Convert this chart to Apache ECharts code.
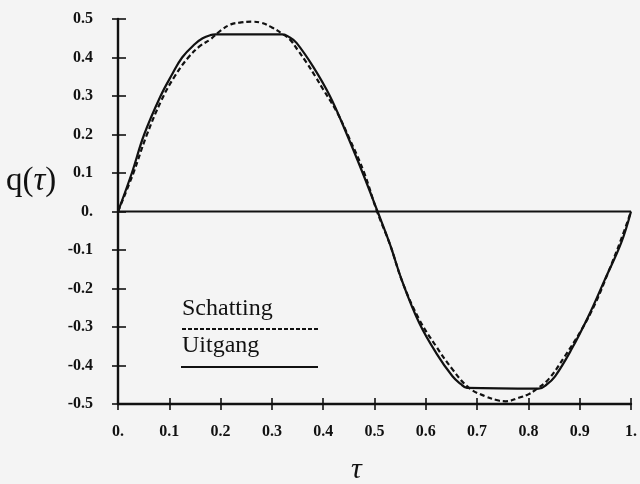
<!DOCTYPE html>
<html>
<head>
<meta charset="utf-8">
<script src="https://cdn.jsdelivr.net/npm/echarts@6/dist/echarts.min.js"></script>
<style>
  html, body { margin: 0; padding: 0; background: #f4f4f4; }
  #chart { width: 640px; height: 484px; }
</style>
</head>
<body>
<div id="chart"></div>
<script>
// Uitgang (solid) curve
var uitgangX = [0, 0.027, 0.051, 0.083, 0.105, 0.125, 0.15, 0.165, 0.18, 0.19, 0.32, 0.335, 0.348, 0.38, 0.413, 0.445, 0.477, 0.506, 0.529, 0.555, 0.587, 0.62, 0.652, 0.668, 0.68, 0.82, 0.835, 0.852, 0.884, 0.917, 0.949, 0.981, 1.0];
var uitgangY = [0, 0.1, 0.2, 0.3, 0.355, 0.4, 0.435, 0.45, 0.458, 0.46, 0.46, 0.452, 0.438, 0.377, 0.30, 0.204, 0.10, 0.0, -0.081, -0.185, -0.289, -0.367, -0.428, -0.448, -0.458, -0.46, -0.45, -0.428, -0.358, -0.272, -0.177, -0.081, 0];

// Schatting (dashed) curve
var schattingX = [0, 0.03, 0.055, 0.085, 0.11, 0.137, 0.16, 0.18, 0.2, 0.22, 0.24, 0.26, 0.28, 0.3, 0.32, 0.335, 0.35, 0.368, 0.385, 0.4, 0.426, 0.452, 0.48, 0.505, 0.53, 0.555, 0.587, 0.62, 0.652, 0.684, 0.716, 0.742, 0.756, 0.781, 0.8, 0.813, 0.839, 0.871, 0.904, 0.93, 0.955, 0.98, 1.0];
var schattingY = [0, 0.1, 0.195, 0.29, 0.35, 0.4, 0.43, 0.447, 0.47, 0.486, 0.491, 0.493, 0.49, 0.478, 0.462, 0.447, 0.42, 0.386, 0.35, 0.317, 0.26, 0.187, 0.1, 0.0, -0.085, -0.185, -0.28, -0.35, -0.41, -0.458, -0.48, -0.491, -0.493, -0.484, -0.475, -0.464, -0.436, -0.376, -0.306, -0.24, -0.16, -0.075, 0];

// Zero reference line
var zeroX = [0, 1];
var zeroY = [0, 0];

var xTickLabels = ['0.', '0.1', '0.2', '0.3', '0.4', '0.5', '0.6', '0.7', '0.8', '0.9', '1.'];
var yTickLabels = ['-0.5', '-0.4', '-0.3', '-0.2', '-0.1', '0.', '0.1', '0.2', '0.3', '0.4', '0.5'];

var legendNames = ['Schatting', 'Uitgang'];

function zip(xs, ys) { return xs.map(function (x, i) { return [x, ys[i]]; }); }

var labelFont = { fontFamily: 'Liberation Serif', fontWeight: 'bold', fontSize: 16, color: '#111' };
var serif = 'Liberation Serif';

var chart = echarts.init(document.getElementById('chart'), null, { renderer: 'canvas' });
chart.setOption({
  backgroundColor: '#f4f4f4',
  animation: false,
  grid: { left: 118, right: 7, top: 19, bottom: 80, containLabel: false },
  xAxis: [{
    type: 'value', min: 0, max: 1, interval: 0.1, position: 'bottom',
    axisLine: { show: true, onZero: false, lineStyle: { color: '#111', width: 2.4 } },
    axisTick: { show: true, inside: false, length: 6, lineStyle: { color: '#111', width: 1.6 } },
    axisLabel: Object.assign({ margin: 20, formatter: function (v) { return xTickLabels[Math.round(v * 10)]; } }, labelFont),
    splitLine: { show: false }
  }, {
    type: 'value', min: 0, max: 1, interval: 0.1, position: 'bottom',
    axisLine: { show: false, onZero: false },
    axisTick: { show: true, inside: true, length: 6, lineStyle: { color: '#111', width: 1.6 } },
    axisLabel: { show: false },
    splitLine: { show: false }
  }],
  yAxis: [{
    type: 'value', min: -0.5, max: 0.5, interval: 0.1, position: 'left',
    axisLine: { show: true, onZero: false, lineStyle: { color: '#111', width: 2.4 } },
    axisTick: { show: true, inside: false, length: 6, lineStyle: { color: '#111', width: 1.6 } },
    axisLabel: Object.assign({ margin: 25, formatter: function (v) { return yTickLabels[Math.round(v * 10) + 5]; } }, labelFont),
    splitLine: { show: false }
  }, {
    type: 'value', min: -0.5, max: 0.5, interval: 0.1, position: 'left',
    axisLine: { show: false, onZero: false },
    axisTick: { show: true, inside: true, length: 8, lineStyle: { color: '#111', width: 1.6 } },
    axisLabel: { show: false },
    splitLine: { show: false }
  }],
  series: [{
    name: 'zero', type: 'line', data: zip(zeroX, zeroY), symbol: 'none',
    lineStyle: { color: '#111', width: 2 }, silent: true
  }, {
    name: legendNames[1], type: 'line', data: zip(uitgangX, uitgangY), symbol: 'none', smooth: 0.4,
    lineStyle: { color: '#111', width: 2.2 }
  }, {
    name: legendNames[0], type: 'line', data: zip(schattingX, schattingY), symbol: 'none', smooth: 0.4,
    lineStyle: { color: '#111', width: 2.2, type: [5, 3] }
  }],
  graphic: [
    { type: 'text', left: 182, top: 297, style: { text: legendNames[0], font: '24px "Liberation Serif"', fill: '#111' } },
    { type: 'line', shape: { x1: 182, y1: 329, x2: 318, y2: 329 }, style: { stroke: '#111', lineWidth: 1.8, lineDash: [4, 2] } },
    { type: 'text', left: 182, top: 334, style: { text: legendNames[1], font: '24px "Liberation Serif"', fill: '#111' } },
    { type: 'line', shape: { x1: 181, y1: 367, x2: 318, y2: 367 }, style: { stroke: '#111', lineWidth: 2 } },
    { type: 'text', left: 6, top: 165, style: {
        text: '{a|q(}{b|τ}{a|)}',
        rich: { a: { fontFamily: serif, fontSize: 33, fill: '#111' }, b: { fontFamily: serif, fontStyle: 'italic', fontSize: 33, fill: '#111' } }
    } },
    { type: 'text', left: 351, top: 455, style: { text: 'τ', font: 'italic 30px "Liberation Serif"', fill: '#111' } }
  ]
});
</script>
</body>
</html>
